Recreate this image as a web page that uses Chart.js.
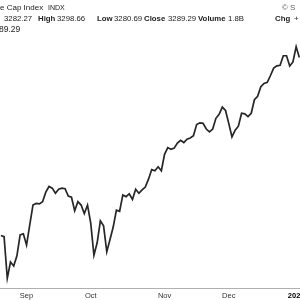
<!DOCTYPE html>
<html>
<head>
<meta charset="utf-8">
<script src="https://cdn.jsdelivr.net/npm/chart.js@4/dist/chart.umd.min.js"></script>
<style>
  body { margin: 0; background: #fff; }
  #wrap { position: relative; width: 300px; height: 300px; overflow: hidden; }
  canvas { position: absolute; left: 0; top: 0; }
  .t { position: absolute; white-space: nowrap; font-family: "Liberation Sans", Arial, sans-serif; color: #222; }
  .l1 { top: 3px; font-size: 8px; }
  .l2 { top: 14px; font-size: 7.8px; }
  .l3 { top: 24px; font-size: 8.5px; }
  b { font-weight: bold; }
</style>
</head>
<body>
<div id="wrap">
  <canvas id="grafico" width="300" height="300"></canvas>
  <div class="t l1" style="left:0">e Cap Index</div>
  <div class="t l1" style="left:48px;font-size:7px;top:4px">INDX</div>
  <div class="t l1" style="left:282px;color:#666">© S</div>
  <div class="t l2" style="left:4px">3282.27</div>
  <div class="t l2" style="left:38px"><b>High</b></div>
  <div class="t l2" style="left:57px">3298.66</div>
  <div class="t l2" style="left:97px"><b>Low</b></div>
  <div class="t l2" style="left:114px">3280.69</div>
  <div class="t l2" style="left:144px"><b>Close</b></div>
  <div class="t l2" style="left:168px">3289.29</div>
  <div class="t l2" style="left:198px"><b>Volume</b></div>
  <div class="t l2" style="left:228px">1.8B</div>
  <div class="t l2" style="left:275px"><b>Chg</b></div>
  <div class="t l2" style="left:294px">+</div>
  <div class="t l3" style="left:-1px">89.29</div>
</div>
<script>
// sesiones de bolsa, 21 ago 2019 - 3 ene 2020
const fechas = [
  "2019-08-21","2019-08-22","2019-08-23","2019-08-26","2019-08-27","2019-08-28","2019-08-29","2019-08-30",
  "2019-09-03","2019-09-04","2019-09-05","2019-09-06","2019-09-09","2019-09-10","2019-09-11","2019-09-12","2019-09-13",
  "2019-09-16","2019-09-17","2019-09-18","2019-09-19","2019-09-20","2019-09-23","2019-09-24","2019-09-25","2019-09-26",
  "2019-09-27","2019-09-30",
  "2019-10-01","2019-10-02","2019-10-03","2019-10-04","2019-10-07","2019-10-08","2019-10-09","2019-10-10","2019-10-11",
  "2019-10-14","2019-10-15","2019-10-16","2019-10-17","2019-10-18","2019-10-21","2019-10-22","2019-10-23","2019-10-24",
  "2019-10-25","2019-10-28","2019-10-29","2019-10-30","2019-10-31",
  "2019-11-01","2019-11-04","2019-11-05","2019-11-06","2019-11-07","2019-11-08","2019-11-11","2019-11-12","2019-11-13",
  "2019-11-14","2019-11-15","2019-11-18","2019-11-19","2019-11-20","2019-11-21","2019-11-22","2019-11-25","2019-11-26",
  "2019-11-27","2019-11-29",
  "2019-12-02","2019-12-03","2019-12-04","2019-12-05","2019-12-06","2019-12-09","2019-12-10","2019-12-11","2019-12-12",
  "2019-12-13","2019-12-16","2019-12-17","2019-12-18","2019-12-19","2019-12-20","2019-12-23","2019-12-24","2019-12-26",
  "2019-12-27","2019-12-30","2019-12-31",
  "2020-01-02","2020-01-03"
];

const cierres = [
  2923, 2921, 2847, 2876, 2869, 2887, 2924, 2926,
  2906, 2942, 2977, 2980, 2979, 2983, 3000, 3010, 3007,
  2998, 3005, 3007, 3006, 2993, 2991, 2967, 2983, 2977,
  2962, 2977,
  2945, 2888, 2910, 2949, 2940, 2894, 2916, 2938, 2968,
  2966, 2995, 2992, 2997, 2987, 3005, 2998, 3004, 3009,
  3023, 3040, 3038, 3045, 3038,
  3067, 3079, 3076, 3078, 3087, 3092, 3088, 3094, 3096,
  3100, 3120, 3123, 3122, 3112, 3107, 3112, 3131, 3138,
  3151, 3145,
  3122, 3098, 3110, 3117, 3140, 3139, 3134, 3140, 3164,
  3170, 3187, 3193, 3195, 3207, 3220, 3224, 3225, 3242,
  3242, 3224, 3231,
  3258, 3239
];

const meses = ["Jan","Feb","Mar","Apr","May","Jun","Jul","Aug","Sep","Oct","Nov","Dec"];

// primer dia de cada mes -> etiqueta del eje
let marcas = {};
fechas.forEach((f, i) => {
  if (i === 0) return;
  const m = f.slice(5, 7);
  if (m !== fechas[i - 1].slice(5, 7)) {
    marcas[i] = m === "01" ? f.slice(0, 4) : meses[Number(m) - 1];
  }
});

const puntos = cierres.map((c, i) => ({ x: i, y: c }));

new Chart(document.getElementById("grafico"), {
  type: "line",
  data: {
    datasets: [{
      data: puntos,
      borderColor: "#262626",
      borderWidth: 1.7,
      pointRadius: 0,
      tension: 0
    }]
  },
  options: {
    responsive: false,
    animation: false,
    events: [],
    layout: { padding: 0 },
    plugins: { legend: { display: false }, tooltip: { enabled: false } },
    scales: {
      x: {
        type: "linear",
        min: -0.27,
        max: 93.2,
        grid: { display: false, drawTicks: false },
        border: { display: true, color: "#b0b0b0", width: 1, dash: [1, 1] },
        afterBuildTicks: s => { s.ticks = Object.keys(marcas).map(k => ({ value: Number(k) })); },
        afterFit: s => {
          s.height = 12;
          s.paddingLeft = 0;
          s.paddingRight = 0;
        },
        ticks: {
          autoSkip: false,
          maxRotation: 0,
          padding: 3,
          color: ctx => (ctx.tick && marcas[ctx.tick.value] === "2020") ? "#000" : "#333",
          font: ctx => ({
            family: "'Liberation Sans', Arial, sans-serif",
            size: 7.5,
            weight: (ctx.tick && marcas[ctx.tick.value] === "2020") ? "bold" : "normal"
          }),
          callback: v => marcas[v] || ""
        }
      },
      y: {
        display: false,
        min: 2829.8,
        max: 3341
      }
    }
  }
});
</script>
</body>
</html>
